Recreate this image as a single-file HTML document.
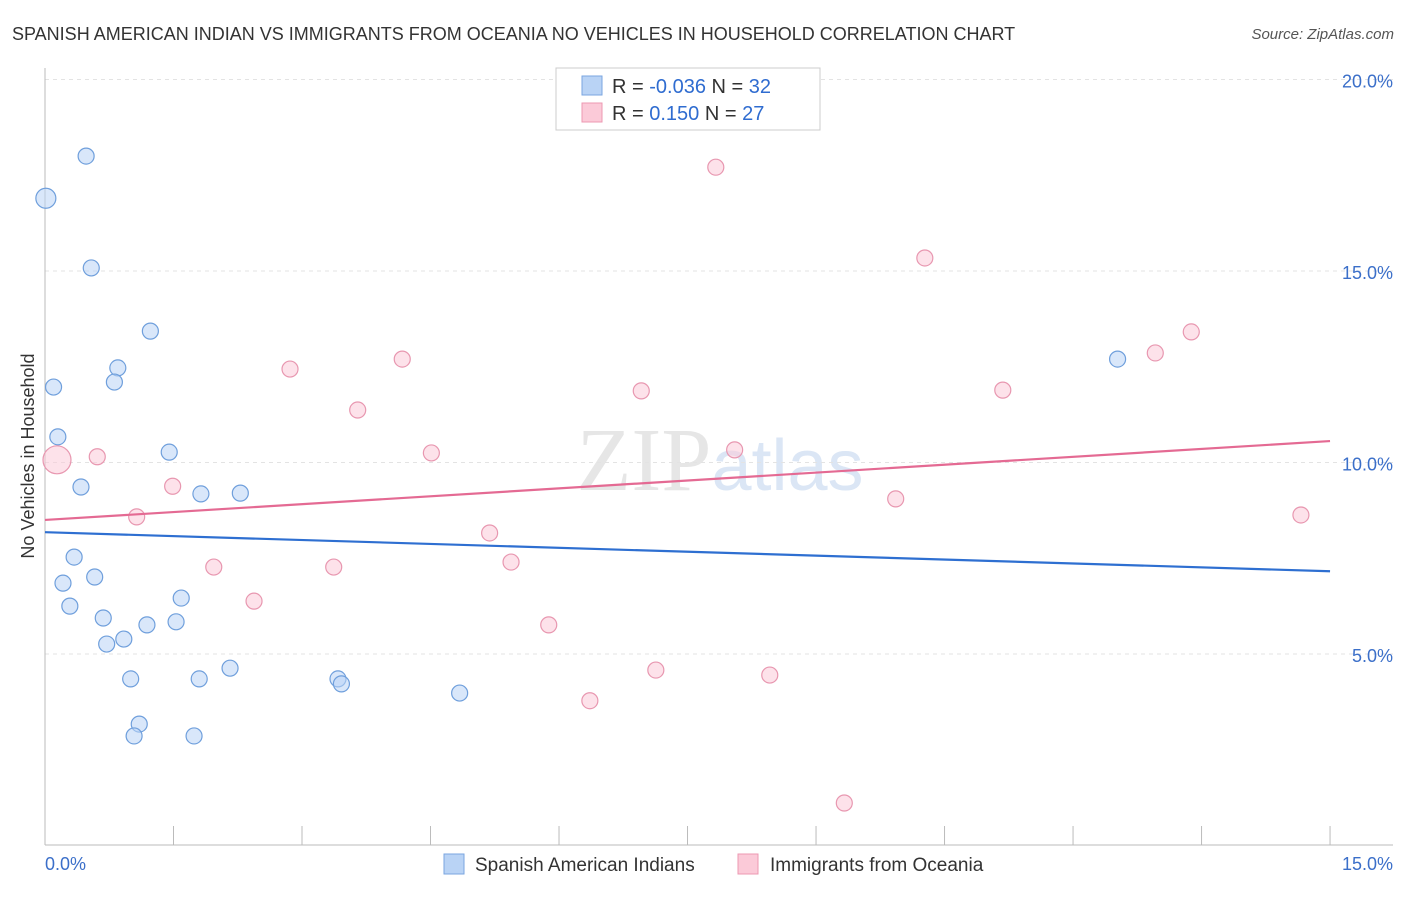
<!DOCTYPE html>
<html><head><meta charset="utf-8"><style>
body{margin:0;background:#fff;font-family:"Liberation Sans",sans-serif;}
</style></head><body>
<svg id="chart" width="1406" height="892" xmlns="http://www.w3.org/2000/svg" font-family="Liberation Sans, sans-serif">
<text x="12" y="40" font-size="18" fill="#333">SPANISH AMERICAN INDIAN VS IMMIGRANTS FROM OCEANIA NO VEHICLES IN HOUSEHOLD CORRELATION CHART</text>
<text x="1394" y="39" font-size="15" fill="#555" text-anchor="end" font-style="italic">Source: ZipAtlas.com</text>
<text x="720" y="490" font-size="90" fill="#e6e6e6" text-anchor="middle" font-family="Liberation Serif, serif">ZIP<tspan fill="#dbe6f5" font-family="Liberation Sans, sans-serif" font-size="72">atlas</tspan></text>
<g id="grid"></g><g id="axes"></g><g id="marks"></g>
<text transform="translate(34,456) rotate(-90)" font-size="18" fill="#333" text-anchor="middle">No Vehicles in Household</text>
<g>
<rect x="556" y="68" width="264" height="62" fill="#fff" stroke="#ccc"/>
<rect x="582" y="76" width="20" height="19" fill="#b9d3f5" stroke="#7aa6e0"/>
<rect x="582" y="103" width="20" height="19" fill="#fbcad8" stroke="#ec98b2"/>
<text x="612" y="93" font-size="20" fill="#333">R = <tspan fill="#2f6cd0">-0.036</tspan>   N = <tspan fill="#2f6cd0">32</tspan></text>
<text x="612" y="120" font-size="20" fill="#333">R =   <tspan fill="#2f6cd0">0.150</tspan>   N = <tspan fill="#2f6cd0">27</tspan></text>
</g>
<g>
<rect x="444" y="854" width="20" height="20" fill="#b9d3f5" stroke="#7aa6e0"/>
<text x="475" y="871" font-size="19" fill="#333">Spanish American Indians</text>
<rect x="738" y="854" width="20" height="20" fill="#fbcad8" stroke="#ec98b2"/>
<text x="770" y="871" font-size="19" fill="#333">Immigrants from Oceania</text>
</g>
</svg>
<script>
const yTicks=[5,10,15,20];
const yTickLabels=["5.0%","10.0%","15.0%","20.0%"];
const blueX=[0.01,0.48,0.54,1.23,0.1,0.85,0.81,0.15,1.45,0.42,1.82,2.28,0.34,0.21,0.58,0.29,1.59,0.68,1.19,1.53,0.92,0.72,1.0,1.8,2.16,3.42,3.46,4.84,1.1,1.04,1.74,12.52];
const blueY=[16.9,18.0,15.08,13.43,11.97,12.47,12.1,10.67,10.27,9.36,9.18,9.2,7.53,6.85,7.01,6.25,6.46,5.94,5.76,5.84,5.39,5.26,4.35,4.35,4.63,4.35,4.22,3.98,3.17,2.86,2.86,12.7];
const pinkX=[0.14,0.61,1.07,1.49,1.97,2.44,2.86,3.37,3.65,4.17,4.51,5.19,5.44,5.88,6.36,6.96,7.13,7.83,8.05,8.46,9.33,9.93,10.27,11.18,12.96,13.38,14.66];
const pinkY=[10.07,10.15,8.58,9.38,7.27,6.38,12.44,7.27,11.37,12.7,10.25,8.16,7.4,5.76,3.78,11.87,4.58,17.71,10.33,4.45,1.11,9.05,15.34,11.89,12.86,13.41,8.63];
const blueTrend=[8.18,7.16];
const pinkTrend=[8.5,10.56];
const xs=v=>45+v*85.67, ys=v=>845.5-v*38.3;
const NS="http://www.w3.org/2000/svg";
function mk(t,a,p){const e=document.createElementNS(NS,t);for(const k in a)e.setAttribute(k,a[k]);p.appendChild(e);return e;}
const grid=document.getElementById('grid'),axes=document.getElementById('axes'),marks=document.getElementById('marks');
yTicks.forEach((t,i)=>{
 const l=mk('line',{x1:45,x2:1393,y1:ys(t),y2:ys(t),stroke:'#e3e3e3','stroke-dasharray':'4,4'},grid);
 
 
 const tx=mk('text',{x:1393,y:ys(t)-16+24,'font-size':18,fill:'#3b6fc9','text-anchor':'end'},axes);
 tx.textContent=yTickLabels[i];
 
 
});
const ax=mk('line',{x1:45,x2:45,y1:68,y2:845,stroke:'#bbb'},axes);


const bx=mk('line',{x1:45,x2:1393,y1:845,y2:845,stroke:'#bbb'},axes);


for(let i=0;i<=10;i++){const t=mk('line',{x1:xs(i*1.5),x2:xs(i*1.5),y1:826,y2:845,stroke:'#bbb'},axes);
 
 }
[[0,"0.0%","start",45],[15,"15.0%","end",1393]].forEach(d=>{const t=mk('text',{x:d[3],y:870,'font-size':18,fill:'#3b6fc9','text-anchor':d[2]},axes);t.textContent=d[1];
 
 });
function pts(X,Y,fill,stroke,name){X.forEach((x,i)=>{const big=(i==0&&(name=='blue-point'?true:true)&&x<0.2);
 const c=mk('circle',{cx:xs(x),cy:ys(Y[i]),r:big?(name=='pink-point'?14:10):8,fill:fill,'fill-opacity':0.55,stroke:stroke,'stroke-width':1.2},marks);
 
 });}
pts(blueX,blueY,'#b9d3f5','#6f9fdc','blue-point');
pts(pinkX,pinkY,'#fbcad8','#e897b0','pink-point');
const bl=mk('line',{x1:xs(0),x2:xs(15),y1:ys(blueTrend[0]),y2:ys(blueTrend[1]),stroke:'#2e6fd1','stroke-width':2.2},marks);


const pl=mk('line',{x1:xs(0),x2:xs(15),y1:ys(pinkTrend[0]),y2:ys(pinkTrend[1]),stroke:'#e46a93','stroke-width':2.2},marks);


</script>
</body></html>
